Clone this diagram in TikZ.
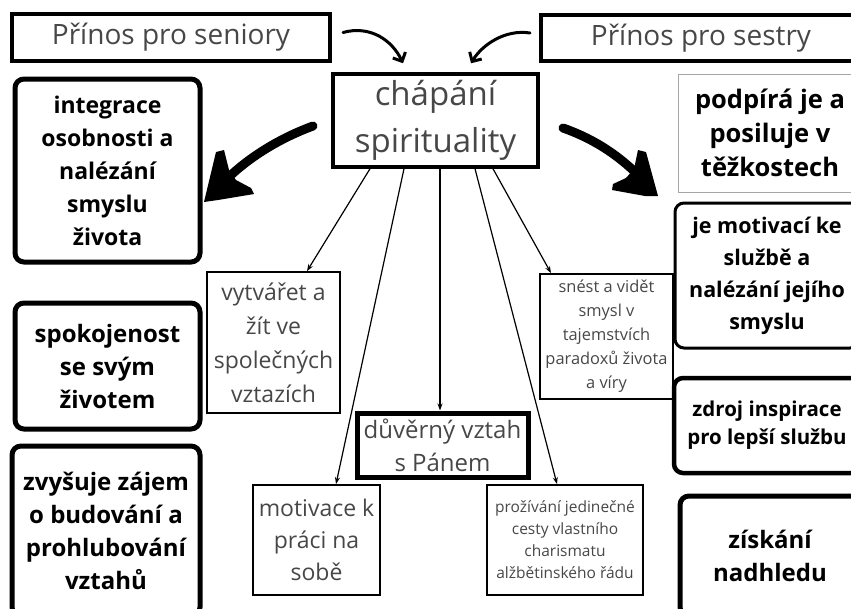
\documentclass[tikz,border=0pt]{standalone}
\usepackage{fontspec}
\setmainfont{Open Sans}
\usetikzlibrary{arrows.meta,calc}
\definecolor{lightink}{HTML}{474747}
\tikzset{
  topbox/.style={draw, line width=4pt, inner sep=0pt, font=\fontsize{28}{34}\selectfont, text=lightink},
  centerbox/.style={draw, line width=3.5pt, inner sep=0pt, align=center, font=\fontsize{33}{47}\selectfont, text=lightink},
  boldbox/.style={draw, rounded corners=9pt, line width=5pt, inner sep=0pt, align=center, font=\bfseries\fontsize{24}{33}\selectfont},
  thinbox/.style={draw, line width=1.8pt, inner sep=0pt, align=center, text=lightink},
  link/.style={line width=1.2pt, -{Stealth[length=7pt,width=5pt]}},
  curvearrow/.style={line width=3pt, line cap=round, -{Straight Barb[length=7pt,width=14pt]}},
}
\begin{document}
\begin{tikzpicture}[x=1pt,y=-1pt]
\useasboundingbox (0,0) rectangle (851,608);
\clip (0,0) rectangle (851,608);

% top labels
\node[topbox, minimum width=318pt, minimum height=47pt] (sen) at (171,37.5) {Přínos pro seniory};
\node[topbox, minimum width=320pt, minimum height=46pt] (ses) at (701,38) {Přínos pro sestry};

% center
\node[centerbox, minimum width=205pt, minimum height=93pt] (cs) at (435.5,120.5) {chápání\\spirituality};

% left boxes
\node[boldbox, minimum width=185pt, minimum height=183pt, font=\bfseries\fontsize{23}{33}\selectfont] (l1) at (107.5,170.5) {integrace\\osobnosti a\\nalézání\\smyslu\\života};
\node[boldbox, minimum width=185pt, minimum height=126pt] (l2) at (107.5,366) {spokojenost\\se svým\\životem};
\node[boldbox, minimum width=188pt, minimum height=170pt] (l3) at (106,531) {zvyšuje zájem\\o budování a\\prohlubování\\vztahů};

% right boxes
\node[draw=gray!70, line width=1pt, inner sep=0pt, align=center, font=\bfseries\fontsize{25.5}{34}\selectfont, minimum width=184pt, minimum height=118pt] (r1) at (770,133) {podpírá je a\\posiluje v\\těžkostech};
\node[boldbox, line width=3pt, minimum width=184pt, minimum height=145pt, font=\bfseries\fontsize{21.5}{32}\selectfont] (r2) at (767,275.5) {je motivací ke\\službě a\\nalézání jejího\\smyslu};
\node[boldbox, line width=4.5pt, minimum width=186pt, minimum height=95pt, font=\bfseries\fontsize{20.5}{28}\selectfont] (r3) at (767,425.5) {zdroj inspirace\\pro lepší službu};
\node[boldbox, minimum width=180pt, minimum height=120pt, font=\bfseries\fontsize{24}{33}\selectfont] (r4) at (770,556) {získání\\nadhledu};

% middle boxes
\node[thinbox, minimum width=133pt, minimum height=141pt, font=\fontsize{23}{34}\selectfont] (vyt) at (273.5,342.5) {vytvářet a\\žít ve\\společných\\vztazích};
\node[thinbox, line width=5pt, minimum width=171pt, minimum height=64pt, font=\fontsize{24}{33}\selectfont] (dv) at (442.5,445) {důvěrný vztah\\s Pánem};
\node[thinbox, minimum width=127pt, minimum height=110pt, font=\fontsize{23}{32}\selectfont] (mot) at (316.5,540) {motivace k\\práci na\\sobě};
\node[thinbox, minimum width=156pt, minimum height=110pt, font=\fontsize{15.5}{22}\selectfont] (proz) at (565,540) {prožívání jedinečné\\cesty vlastního\\charismatu\\alžbětinského řádu};
\node[thinbox, minimum width=133pt, minimum height=125pt, font=\fontsize{16.4}{24}\selectfont] (sne) at (606.5,336.5) {snést a vidět\\smysl v\\tajemstvích\\paradoxů života\\a víry};

% thin connectors
\draw[link] ([xshift=-65.5pt]cs.south) -- ([xshift=33.5pt]vyt.north);
\draw[link] ([xshift=-31.5pt]cs.south) -- ([xshift=19.5pt]mot.north);
\draw[link] ([xshift=4.5pt]cs.south) -- ([xshift=-2.5pt]dv.north);
\draw[link] ([xshift=39.5pt]cs.south) -- ([xshift=-8pt]proz.north);
\draw[link] ([xshift=57.5pt]cs.south) -- ([xshift=-55.5pt]sne.north);

% curved top arrows
\coordinate (sa) at ($(sen.east)+(11,-5)$);
\coordinate (sb) at ($(cs.north)+(-32.5,-9)$);
\draw[curvearrow] (sa) .. controls (370,25) and (392,40) .. (sb);
\coordinate (ta) at ($(ses.west)+(-9,-5)$);
\coordinate (tb) at ($(cs.north)+(35.5,-9)$);
\draw[curvearrow] (ta) .. controls (505,29) and (482,45) .. (tb);

% big left arrow
\draw[line width=9pt, line cap=round] (313,126) .. controls (275,140) and (242,162) .. (220,186);
\fill[line join=round] (204,202) -- (216,152) -- (224,150) -- (229,170) -- (236,180) -- (251,188) -- (254,194) -- (218,200) -- cycle;
% big right arrow
\draw[line width=9pt, line cap=round] (563,128) .. controls (597,140) and (622,158) .. (643,180);
\fill[line join=round] (658,196) -- (646,152) -- (638,150) -- (634,169) -- (626,178) -- (613,184) -- (612,190) -- (645,196) -- cycle;
\end{tikzpicture}
\end{document}
